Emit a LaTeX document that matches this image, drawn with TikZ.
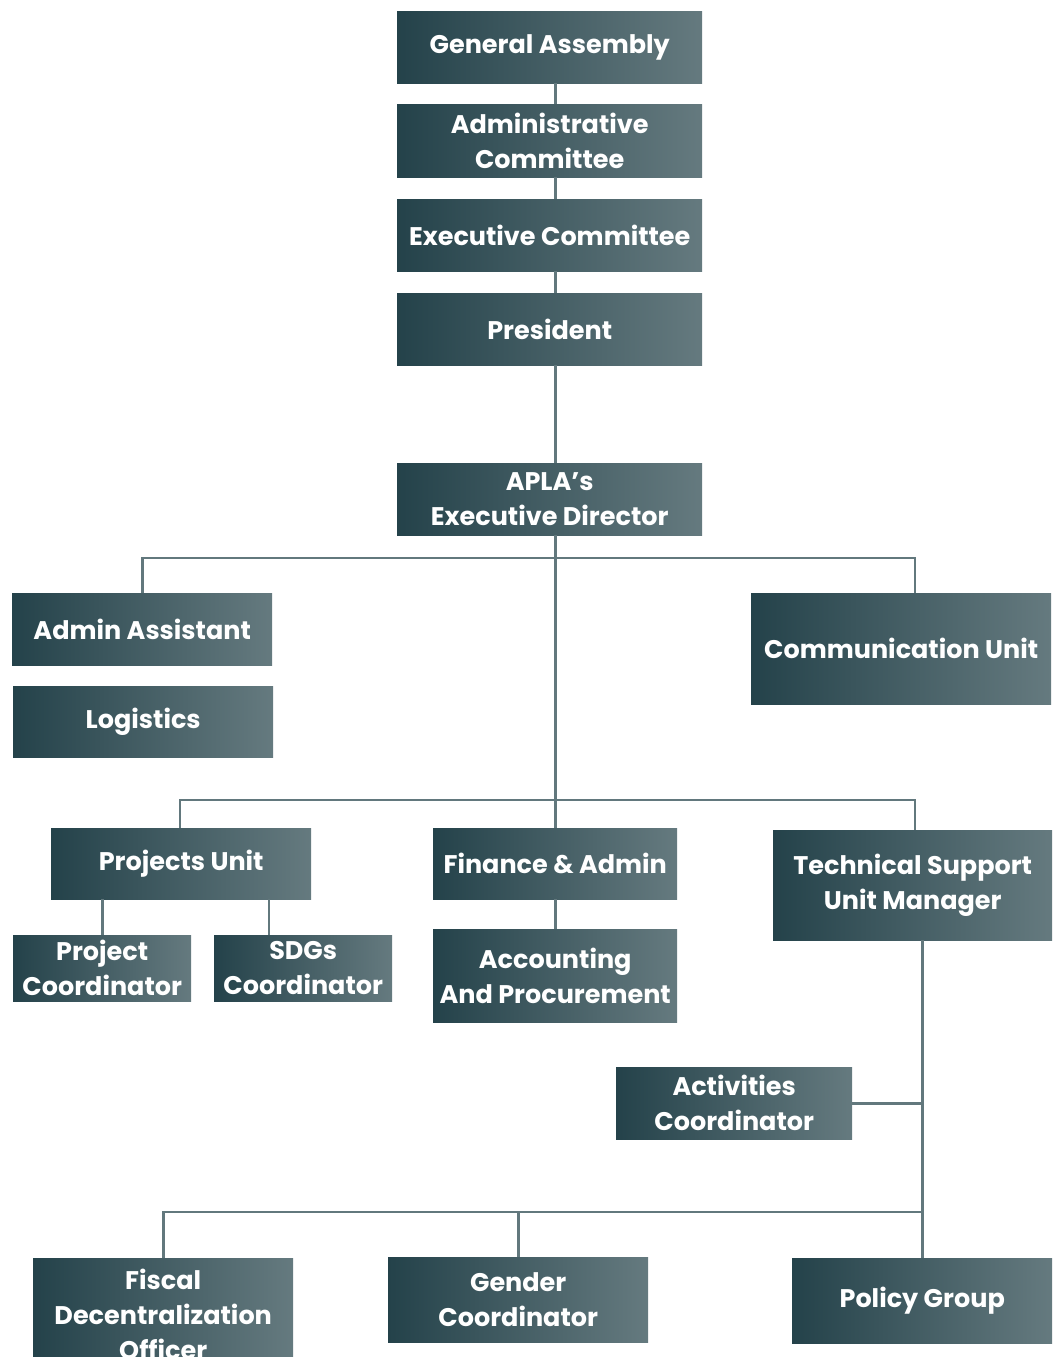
\documentclass[tikz,border=0pt]{standalone}
\usepackage{fontspec}
\setmainfont{Poppins}
\usetikzlibrary{positioning}
\definecolor{boxdark}{RGB}{36,66,74}
\definecolor{boxlight}{RGB}{101,122,127}
\definecolor{linkgray}{RGB}{98,120,125}
\tikzstyle{unit} = [rectangle, left color=boxdark, right color=boxlight, text=white, font=\bfseries\fontsize{25.5}{35}\selectfont, align=center, inner sep=0pt, anchor=north west]
\tikzstyle{link} = [draw=linkgray, line width=2.7pt]

\begin{document}
\begin{tikzpicture}[x=1pt, y=-1pt]
    \useasboundingbox (0,0) rectangle (1062,1357);
    \clip (0,0) rectangle (1062,1357);

    \coordinate (spine) at (555.5,0);
    \coordinate (busa) at (0,558);
    \coordinate (busb) at (0,800);
    \coordinate (busc) at (0,1212);

    \node (ga) [unit, minimum width=305, minimum height=72] at (397,11) {General Assembly};
    \node (ac) [unit, minimum width=305, minimum height=73] at (397,104) {Administrative\\Committee};
    \node (ec) [unit, minimum width=305, minimum height=72] at (397,199) {Executive Committee};
    \node (pr) [unit, minimum width=305, minimum height=72] at (397,293) {President};
    \node (ed) [unit, minimum width=305, minimum height=72] at (397,463) {APLA's\\Executive Director};

    \node (aa) [unit, minimum width=260, minimum height=72] at (12,593) {Admin Assistant};
    \node (lg) [unit, minimum width=260, minimum height=71] at (13,686) {Logistics};
    \node (cu) [unit, minimum width=300, minimum height=111] at (751,593) {Communication Unit};

    \node (pu) [unit, minimum width=260, minimum height=71] at (51,828) {Projects Unit};
    \node (pc) [unit, minimum width=178, minimum height=66] at (13,935) {Project\\Coordinator};
    \node (sd) [unit, minimum width=178, minimum height=66] at (214,935) {SDGs\\Coordinator};
    \node (fa) [unit, minimum width=244, minimum height=71] at (433,828) {Finance \& Admin};
    \node (ap) [unit, minimum width=244, minimum height=93] at (433,929) {Accounting\\And Procurement};
    \node (ts) [unit, minimum width=279, minimum height=110] at (773,830) {Technical Support\\Unit Manager};

    \node (act) [unit, minimum width=236, minimum height=72] at (616,1067) {Activities\\Coordinator};
    \node (fd) [unit, minimum width=260, minimum height=112] at (33,1258) {Fiscal\\Decentralization\\Officer};
    \node (gc) [unit, minimum width=260, minimum height=85] at (388,1257) {Gender\\Coordinator};
    \node (pg) [unit, minimum width=260, minimum height=85] at (792,1258) {Policy Group};

    % top chain
    \draw [link] (ga.south -| spine) -- (ac.north -| spine);
    \draw [link] (ac.south -| spine) -- (ec.north -| spine);
    \draw [link] (ec.south -| spine) -- (pr.north -| spine);
    \draw [link] (pr.south -| spine) -- (ed.north -| spine);

    % first level
    \draw [link] (ed.south -| spine) -- (busb -| spine);
    \draw [link] (aa.north) |- (busa -| 915,0) -- (cu.north -| 915,0);

    % second level
    \draw [link] (pu.north -| 180,0) |- (busb -| 915,0) -- (ts.north -| 915,0);
    \draw [link] (busb -| spine) -- (fa.north -| spine);
    \draw [link] (pu.south -| pc.north) -- (pc.north);
    \draw [link] (pu.south -| 269,0) -- (sd.north -| 269,0);
    \draw [link] (fa.south -| spine) -- (ap.north -| spine);

    % technical support unit
    \draw [link] (ts.south -| pg.north) -- (pg.north);
    \draw [link] (act.east) -- (act.east -| pg.north);
    \draw [link] (fd.north) |- (busc -| pg.north);
    \draw [link] (busc -| gc.north) -- (gc.north);
\end{tikzpicture}
\end{document}
